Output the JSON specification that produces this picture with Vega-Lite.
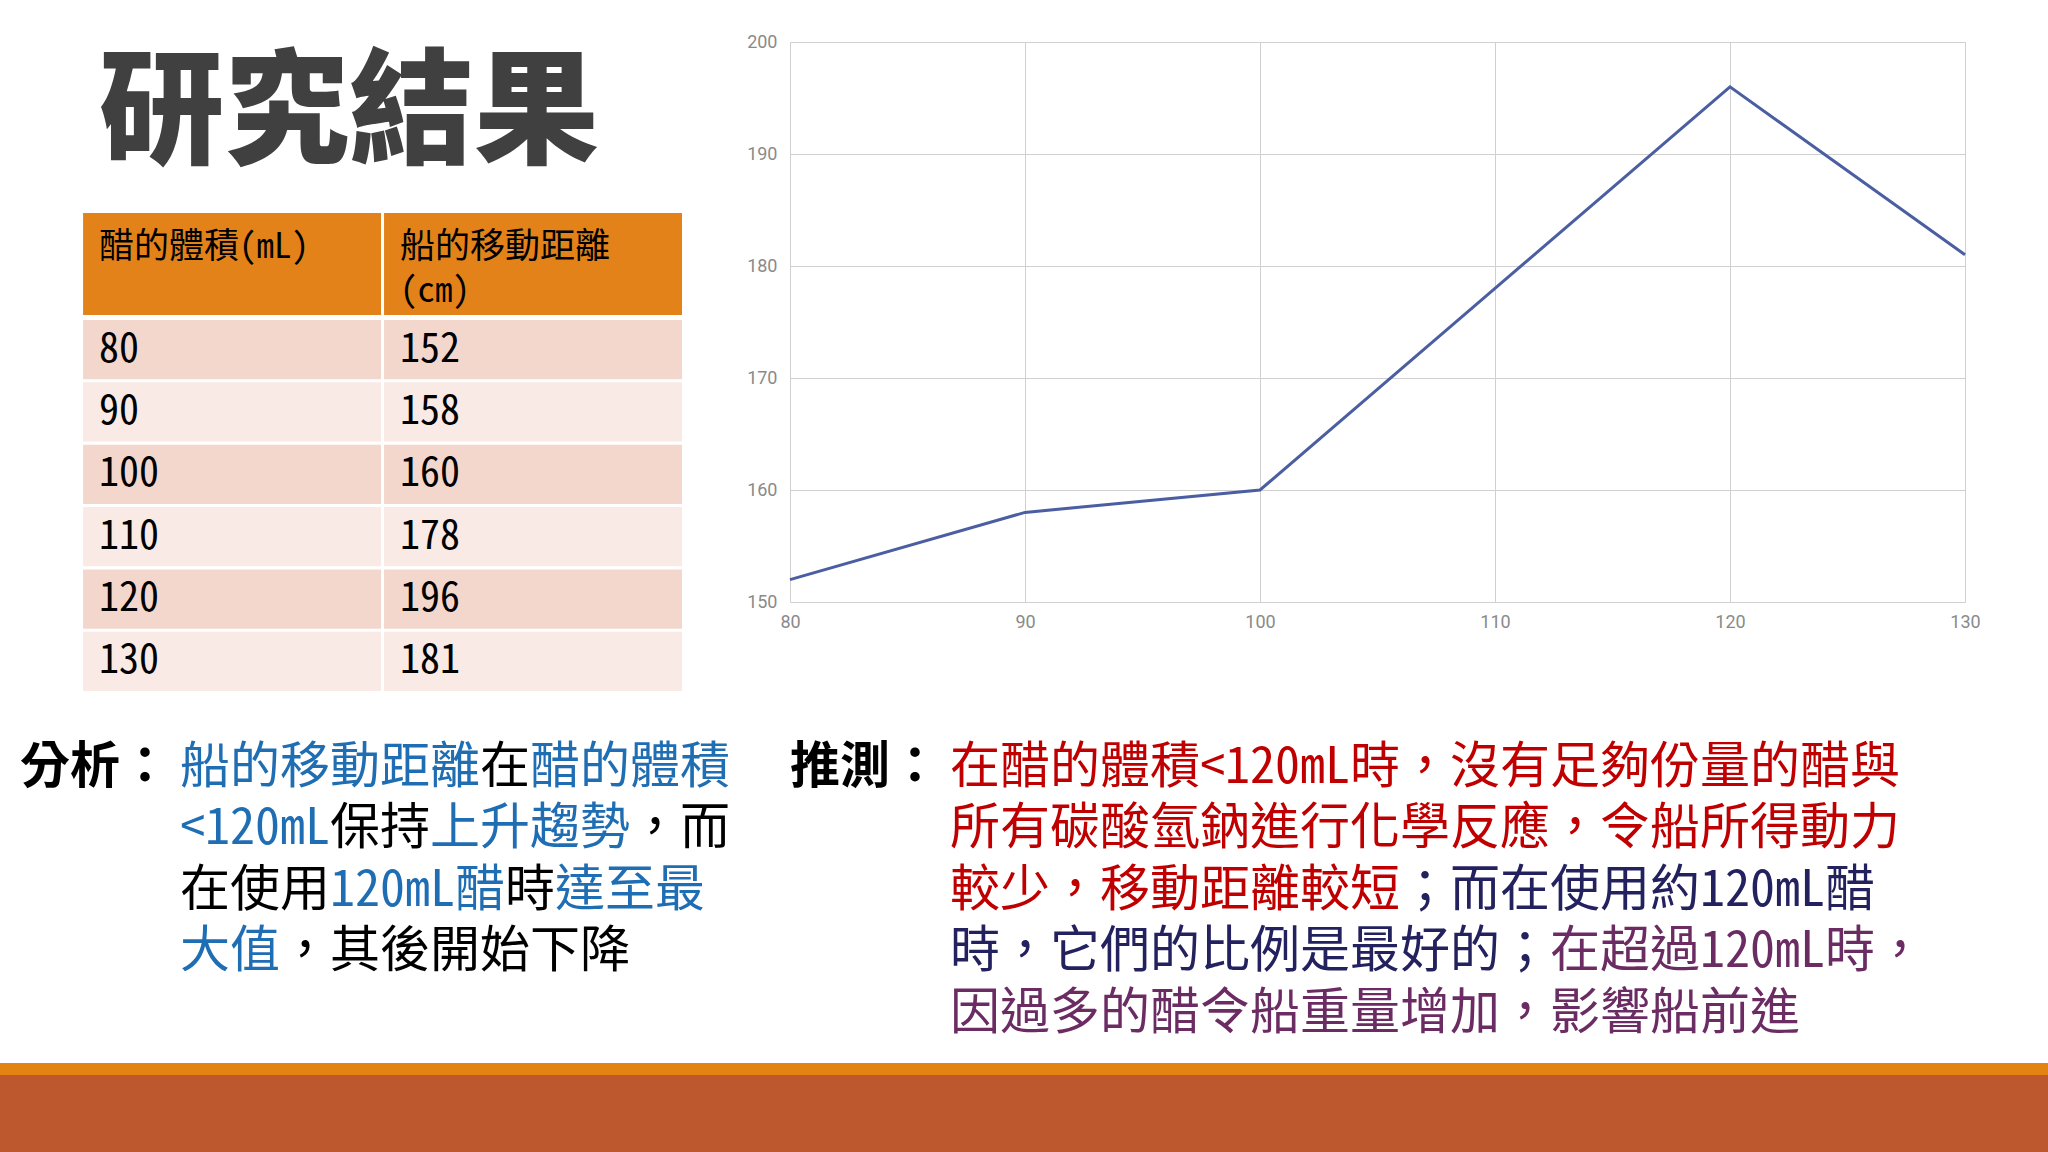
{
  "$schema": "https://vega.github.io/schema/vega-lite/v6.json",
  "background": "white",
  "padding": {"top": 33, "left": 0, "right": 0, "bottom": 0},
  "config": {"view": {"stroke": null}},
  "datasets": {
    "results": [
      {"volume": 80, "distance": 152},
      {"volume": 90, "distance": 158},
      {"volume": 100, "distance": 160},
      {"volume": 110, "distance": 178},
      {"volume": 120, "distance": 196},
      {"volume": 130, "distance": 181}
    ],
    "analysis": [
      {"line": 1, "col": 0.4, "phrase": "分析：", "tone": "label"},
      {"line": 1, "col": 3.6, "phrase": "船的移動距離", "tone": "blue"},
      {"line": 1, "col": 9.6, "phrase": "在", "tone": "black"},
      {"line": 1, "col": 10.6, "phrase": "醋的體積", "tone": "blue"},
      {"line": 2, "col": 3.6, "phrase": "<120mL", "tone": "blue"},
      {"line": 2, "col": 6.6, "phrase": "保持", "tone": "black"},
      {"line": 2, "col": 8.6, "phrase": "上升趨勢", "tone": "blue"},
      {"line": 2, "col": 12.6, "phrase": "，而", "tone": "black"},
      {"line": 3, "col": 3.6, "phrase": "在使用", "tone": "black"},
      {"line": 3, "col": 6.6, "phrase": "120mL醋", "tone": "blue"},
      {"line": 3, "col": 10.1, "phrase": "時", "tone": "black"},
      {"line": 3, "col": 11.1, "phrase": "達至最", "tone": "blue"},
      {"line": 4, "col": 3.6, "phrase": "大值", "tone": "blue"},
      {"line": 4, "col": 5.6, "phrase": "，其後開始下降", "tone": "black"}
    ],
    "prediction": [
      {"line": 1, "col": 0.4, "phrase": "推測：", "tone": "label"},
      {"line": 1, "col": 3.6, "phrase": "在醋的體積<120mL時，沒有足夠份量的醋與", "tone": "red"},
      {"line": 2, "col": 3.6, "phrase": "所有碳酸氫鈉進行化學反應，令船所得動力", "tone": "red"},
      {"line": 3, "col": 3.6, "phrase": "較少，移動距離較短", "tone": "red"},
      {"line": 3, "col": 12.6, "phrase": "；而在使用約120mL醋", "tone": "navy"},
      {"line": 4, "col": 3.6, "phrase": "時，它們的比例是最好的；", "tone": "navy"},
      {"line": 4, "col": 15.6, "phrase": "在超過120mL時，", "tone": "purple"},
      {"line": 5, "col": 3.6, "phrase": "因過多的醋令船重量增加，影響船前進", "tone": "purple"}
    ]
  },
  "vconcat": [
    {
      "hconcat": [
        {
          "vconcat": [
            {
              "width": 682,
              "height": 166,
              "data": {"values": [{"heading": "研究結果"}]},
              "mark": {"type": "text", "font": "Noto Sans CJK TC", "fontSize": 125, "fontWeight": 900, "color": "#404040", "align": "center", "baseline": "middle", "dx": 8, "dy": -9},
              "encoding": {"text": {"field": "heading", "type": "nominal"}}
            },
            {
              "width": 682,
              "height": 102,
              "data": {"values": [
                {"column": "volume", "label": "醋的體積(mL)"},
                {"column": "distance", "label": "船的移動距離\n(cm)"}
              ]},
              "encoding": {
                "x": {"field": "column", "type": "nominal", "sort": ["volume", "distance"], "axis": null,
                      "scale": {"type": "band", "paddingInner": 0.01, "paddingOuter": 0.138, "align": 1}}
              },
              "layer": [
                {"mark": {"type": "rect", "color": "#E4821A"}},
                {
                  "mark": {"type": "text", "font": "Noto Sans Mono CJK TC, Noto Sans CJK TC", "fontSize": 35, "lineBreak": "\n", "lineHeight": 44, "align": "left", "baseline": "top", "dx": 16, "dy": 17, "color": "#000000"},
                  "encoding": {
                    "x": {"field": "column", "type": "nominal", "sort": ["volume", "distance"], "bandPosition": 0},
                    "y": {"datum": "header", "type": "nominal", "axis": null, "bandPosition": 0, "scale": {"type": "band", "paddingInner": 0, "paddingOuter": 0}},
                    "text": {"field": "label", "type": "nominal"}
                  }
                }
              ]
            },
            {
              "width": 682,
              "height": 371,
              "data": {"name": "results"},
              "transform": [{"fold": ["volume", "distance"], "as": ["column", "value"]}],
              "encoding": {
                "x": {"field": "column", "type": "nominal", "sort": ["volume", "distance"], "axis": null,
                      "scale": {"type": "band", "paddingInner": 0.01, "paddingOuter": 0.138, "align": 1}},
                "y": {"field": "volume", "type": "ordinal", "axis": null,
                      "scale": {"type": "band", "paddingInner": 0.05, "paddingOuter": 0}}
              },
              "layer": [
                {
                  "mark": {"type": "rect"},
                  "encoding": {
                    "color": {"field": "volume", "type": "ordinal", "legend": null,
                              "scale": {"domain": [80, 90, 100, 110, 120, 130],
                                        "range": ["#F4D7CC", "#F9EAE5", "#F4D7CC", "#F9EAE5", "#F4D7CC", "#F9EAE5"]}}
                  }
                },
                {
                  "mark": {"type": "text", "font": "Noto Sans Mono CJK TC, Noto Sans CJK TC", "fontSize": 40, "align": "left", "baseline": "middle", "dx": 16, "color": "#000000"},
                  "encoding": {
                    "x": {"field": "column", "type": "nominal", "sort": ["volume", "distance"], "bandPosition": 0},
                    "text": {"field": "value", "type": "nominal"}
                  }
                }
              ]
            }
          ],
          "spacing": 5,
          "resolve": {"scale": {"x": "independent", "y": "independent", "color": "independent"}}
        },
        {
          "width": 1175,
          "height": 560,
          "data": {"name": "results"},
          "mark": {"type": "line", "color": "#4B5EA2", "strokeWidth": 3},
          "encoding": {
            "x": {"field": "volume", "type": "quantitative",
                  "scale": {"domain": [80, 130], "nice": false, "zero": false},
                  "axis": {"values": [80, 90, 100, 110, 120, 130], "title": null, "grid": true, "gridColor": "#D0D0D0", "domain": false, "ticks": false, "labelFlush": false, "labelPadding": 11, "labelFont": "Roboto", "labelFontSize": 18, "labelColor": "#8A8A8A"}},
            "y": {"field": "distance", "type": "quantitative",
                  "scale": {"domain": [150, 200], "nice": false, "zero": false},
                  "axis": {"values": [150, 160, 170, 180, 190, 200], "title": null, "grid": true, "gridColor": "#D0D0D0", "domain": false, "ticks": false, "labelFlush": false, "labelPadding": 13, "minExtent": 46, "labelFont": "Roboto", "labelFontSize": 18, "labelColor": "#8A8A8A"}}
          }
        }
      ],
      "spacing": 62,
      "resolve": {"scale": {"x": "independent", "y": "independent", "color": "independent"}}
    },
    {
      "hconcat": [
        {
          "width": 770,
          "height": 372,
          "data": {"name": "analysis"},
          "encoding": {
            "x": {"field": "col", "type": "quantitative", "axis": null, "scale": {"domain": [0, 15.4], "nice": false, "zero": false}},
            "y": {"field": "line", "type": "quantitative", "axis": null, "scale": {"domain": [-0.25, 5.8], "reverse": true, "nice": false, "zero": false}},
            "text": {"field": "phrase", "type": "nominal"}
          },
          "layer": [
            {
              "transform": [{"filter": "datum.tone === 'label'"}],
              "mark": {"type": "text", "font": "Noto Sans Mono CJK TC, Noto Sans CJK TC", "fontSize": 50, "fontWeight": "bold", "align": "left", "baseline": "middle", "color": "#000000"}
            },
            {
              "transform": [{"filter": "datum.tone !== 'label'"}],
              "mark": {"type": "text", "font": "Noto Sans Mono CJK TC, Noto Sans CJK TC", "fontSize": 50, "align": "left", "baseline": "middle"},
              "encoding": {
                "color": {"field": "tone", "type": "nominal", "legend": null,
                          "scale": {"domain": ["black", "blue", "red", "navy", "purple"],
                                    "range": ["#000000", "#1F6EB4", "#C00000", "#23215E", "#6B2C63"]}}
              }
            }
          ]
        },
        {
          "width": 1278,
          "height": 372,
          "data": {"name": "prediction"},
          "encoding": {
            "x": {"field": "col", "type": "quantitative", "axis": null, "scale": {"domain": [0, 25.56], "nice": false, "zero": false}},
            "y": {"field": "line", "type": "quantitative", "axis": null, "scale": {"domain": [-0.25, 5.8], "reverse": true, "nice": false, "zero": false}},
            "text": {"field": "phrase", "type": "nominal"}
          },
          "layer": [
            {
              "transform": [{"filter": "datum.tone === 'label'"}],
              "mark": {"type": "text", "font": "Noto Sans Mono CJK TC, Noto Sans CJK TC", "fontSize": 50, "fontWeight": "bold", "align": "left", "baseline": "middle", "color": "#000000"}
            },
            {
              "transform": [{"filter": "datum.tone !== 'label'"}],
              "mark": {"type": "text", "font": "Noto Sans Mono CJK TC, Noto Sans CJK TC", "fontSize": 50, "align": "left", "baseline": "middle"},
              "encoding": {
                "color": {"field": "tone", "type": "nominal", "legend": null,
                          "scale": {"domain": ["black", "blue", "red", "navy", "purple"],
                                    "range": ["#000000", "#1F6EB4", "#C00000", "#23215E", "#6B2C63"]}}
              }
            }
          ]
        }
      ],
      "spacing": 0,
      "resolve": {"scale": {"x": "independent", "y": "independent", "color": "independent"}}
    },
    {
      "width": 2048,
      "height": 12,
      "data": {"values": [{"stripe": "accent"}]},
      "mark": {"type": "rect", "color": "#E38312"},
      "encoding": {}
    },
    {
      "width": 2048,
      "height": 77,
      "data": {"values": [{"stripe": "footer"}]},
      "mark": {"type": "rect", "color": "#BC572E"},
      "encoding": {}
    }
  ],
  "spacing": 0,
  "resolve": {"scale": {"x": "independent", "y": "independent", "color": "independent"}}
}
